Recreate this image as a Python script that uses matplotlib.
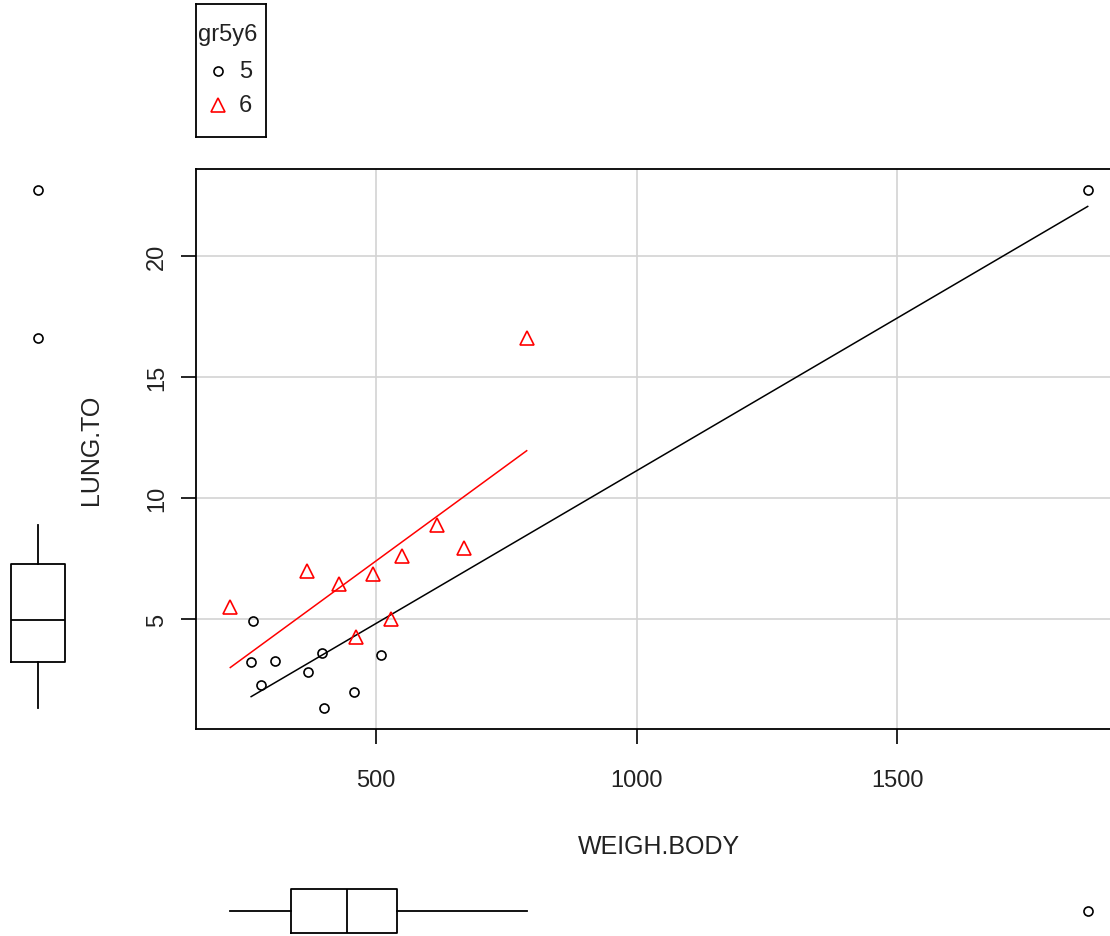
import numpy as np
import matplotlib
matplotlib.use("Agg")
import matplotlib.pyplot as plt

plt.rcParams['font.family'] = ['Liberation Sans', 'DejaVu Sans']

# group 5 (black circles)
weigh_5 = [1866, 264, 260, 306, 278, 370, 397, 400, 458, 510]
lung_5 = [22.73, 4.92, 3.22, 3.26, 2.27, 2.81, 3.60, 1.32, 1.98, 3.51]
# group 6 (red triangles)
weigh_6 = [220, 368, 429, 494, 550, 617, 669, 462, 529, 789]
lung_6 = [5.50, 6.98, 6.45, 6.86, 7.60, 8.88, 7.93, 4.26, 5.00, 16.61]

groups = ['5', '6']
colors = ['black', 'red']
markers = ['o', '^']

W, H = 1110, 937
TXT = '#222222'
fig = plt.figure(figsize=(W / 100, H / 100), dpi=100)

def px_axes(x0, x1, y0, y1):
    # pixel box (top-left origin) -> figure axes
    return fig.add_axes([x0 / W, (H - y1) / H, (x1 - x0) / W, (y1 - y0) / H])

def tukey_stats(v):
    # boxplot stats with Tukey hinges, like R's boxplot
    v = np.sort(np.asarray(v, dtype=float))
    n = len(v)
    half = (n + 1) // 2
    q1, q3 = np.median(v[:half]), np.median(v[n - half:])
    iqr = q3 - q1
    inside = v[(v >= q1 - 1.5 * iqr) & (v <= q3 + 1.5 * iqr)]
    return dict(med=np.median(v), q1=q1, q3=q3, whislo=inside.min(),
                whishi=inside.max(),
                fliers=v[(v < q1 - 1.5 * iqr) | (v > q3 + 1.5 * iqr)])

ax = px_axes(196, 1122, 170, 730)

all_x = np.array(weigh_5 + weigh_6, dtype=float)
all_y = np.array(lung_5 + lung_6, dtype=float)
dx = (all_x.max() - all_x.min()) * 0.04
dy = (all_y.max() - all_y.min()) * 0.04
ax.set_xlim(all_x.min() - dx, all_x.max() + dx)
ax.set_ylim(all_y.min() - dy, all_y.max() + dy)

ax.set_xticks([500, 1000, 1500])
ax.set_yticks([5, 10, 15, 20])
ax.grid(True, color='#d3d3d3', lw=1.2)
ax.set_axisbelow(True)
for s in ax.spines.values():
    s.set_linewidth(1.3)
ax.tick_params(direction='out', length=11, width=1.2, labelsize=17,
               colors='black', labelcolor=TXT)
ax.tick_params(axis='x', pad=18)
ax.tick_params(axis='y', pad=9)
for lab in ax.get_yticklabels():
    lab.set_rotation(90)
    lab.set_va('center')

msz = {'o': 6.5, '^': 10}
series = [(weigh_5, lung_5), (weigh_6, lung_6)]
for (xs, ys), col, mk in zip(series, colors, markers):
    ax.plot(xs, ys, mk, mfc='none', mec=col, ms=msz[mk], mew=1.2)
    xs = np.array(xs, dtype=float)
    b, a = np.polyfit(xs, ys, 1)
    xx = np.array([xs.min(), xs.max()])
    ax.plot(xx, a + b * xx, color=col, lw=1.1)

ax.set_xlabel('WEIGH.BODY', fontsize=18, labelpad=31, color=TXT)
ax.set_ylabel('LUNG.TO', fontsize=18, labelpad=31, color=TXT)

bprops = dict(boxprops=dict(lw=1.3), whiskerprops=dict(lw=1.3),
              capprops=dict(lw=0), medianprops=dict(color='black', lw=1.3),
              flierprops=dict(marker='o', ms=6.5, mfc='none', mec='black',
                              mew=1.2))

# left marginal boxplot
axl = px_axes(0, 76, 170, 730)
axl.set_ylim(ax.get_ylim())
axl.set_xlim(0, 1)
axl.bxp([tukey_stats(all_y)], positions=[0.5], widths=0.72, **bprops)
axl.axis('off')

# bottom marginal boxplot
axb = px_axes(196, 1122, 884, 940)
axb.set_xlim(ax.get_xlim())
axb.set_ylim(0, 1)
axb.bxp([tukey_stats(all_x)], positions=[0.5], widths=0.79,
        orientation='horizontal', **bprops)
axb.axis('off')

# legend box drawn R-style, tight around its contents
axg = px_axes(196, 266, 5, 138)
axg.set_xlim(0, 70)
axg.set_ylim(133, 0)
axg.set_xticks([])
axg.set_yticks([])
for s in axg.spines.values():
    s.set_linewidth(1.3)
axg.text(2, 30, 'gr5y6', fontsize=17, color=TXT, va='center', ha='left')
for i, (g, col, mk) in enumerate(zip(groups, colors, markers)):
    yy = 67 + 34 * i
    axg.plot([22], [yy], mk, mfc='none', mec=col, ms=msz[mk], mew=1.2)
    axg.text(43, yy, g, fontsize=17, color=TXT, va='center', ha='left')

fig.savefig('out.png', dpi=100)
